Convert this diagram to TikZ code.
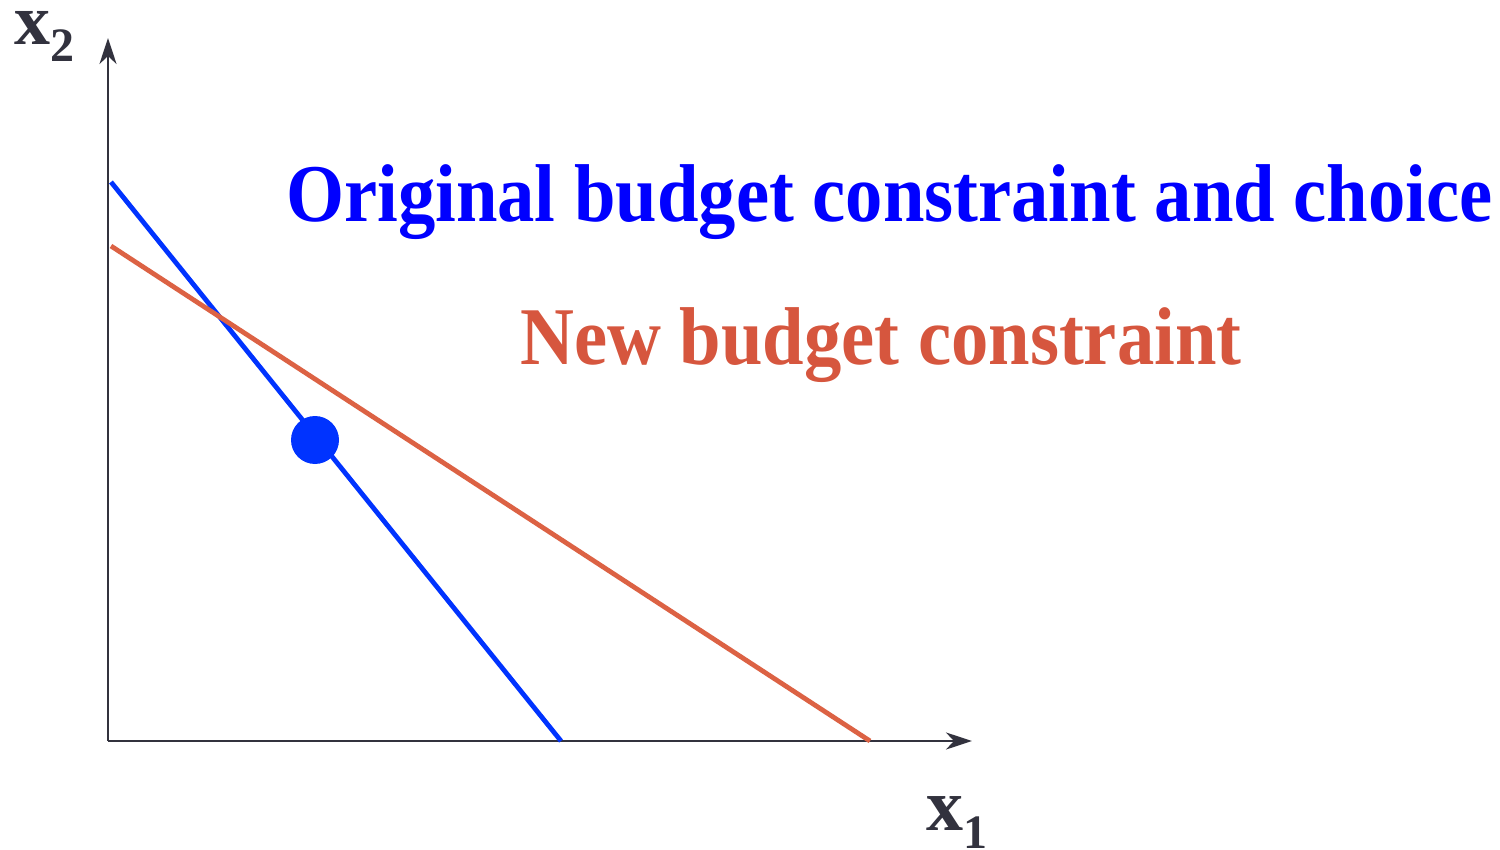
\documentclass[tikz,border=0pt]{standalone}
\usepackage{fontspec}
\setmainfont{Liberation Serif}
\newfontfamily\condserif[FakeStretch=0.91]{Liberation Serif}
\usetikzlibrary{arrows.meta}
\definecolor{axisgray}{RGB}{50,50,62}
\definecolor{lineblue}{RGB}{0,51,255}
\definecolor{textblue}{RGB}{0,0,255}
\definecolor{lineorange}{RGB}{220,98,68}
\definecolor{textorange}{RGB}{214,86,62}
\tikzset{
  axis/.style={draw=axisgray, line width=2.8pt, -{Stealth[length=26pt,width=17pt,inset=8pt]}},
  budgetblue/.style={draw=lineblue, line width=4.8pt},
  budgetorange/.style={draw=lineorange, line width=4.8pt},
  axislabel/.style={text=axisgray, font=\bfseries, inner sep=0pt, anchor=base west},
  bigtext/.style={font=\condserif\bfseries\fontsize{82}{90}\selectfont, inner sep=0pt, anchor=base west}
}
\begin{document}
\begin{tikzpicture}[x=1pt,y=-1pt]
\useasboundingbox (0,0) rectangle (1500,850);
\coordinate (O) at (108,741);
\coordinate (ytop) at (108,38);
\coordinate (xend) at (972,741);
\draw[axis] (O) -- (ytop);
\draw[axis] (O) -- (xend);
\coordinate (b1) at (111,182);
\coordinate (b2) at (561,741);
\coordinate (r1) at (111,246);
\coordinate (r2) at (870,741);
\draw[budgetblue] (b1) -- (b2);
\draw[budgetorange] (r1) -- (r2);
\node[circle, fill=lineblue, minimum size=48pt, inner sep=0pt] (choice) at (315,440) {};
\node[bigtext, text=textblue] (orig) at (286,222) {Original budget constraint and choice};
\node[bigtext, text=textorange] (new) at (520,365) {New budget constraint};
\node[axislabel] (x2) at (14,45) {\fontsize{72}{80}\selectfont x\raisebox{-17pt}{\fontsize{48}{50}\selectfont 2}};
\node[axislabel] (x1) at (926,830) {\fontsize{74}{80}\selectfont x\raisebox{-18pt}{\fontsize{48}{50}\selectfont 1}};
\end{tikzpicture}
\end{document}
